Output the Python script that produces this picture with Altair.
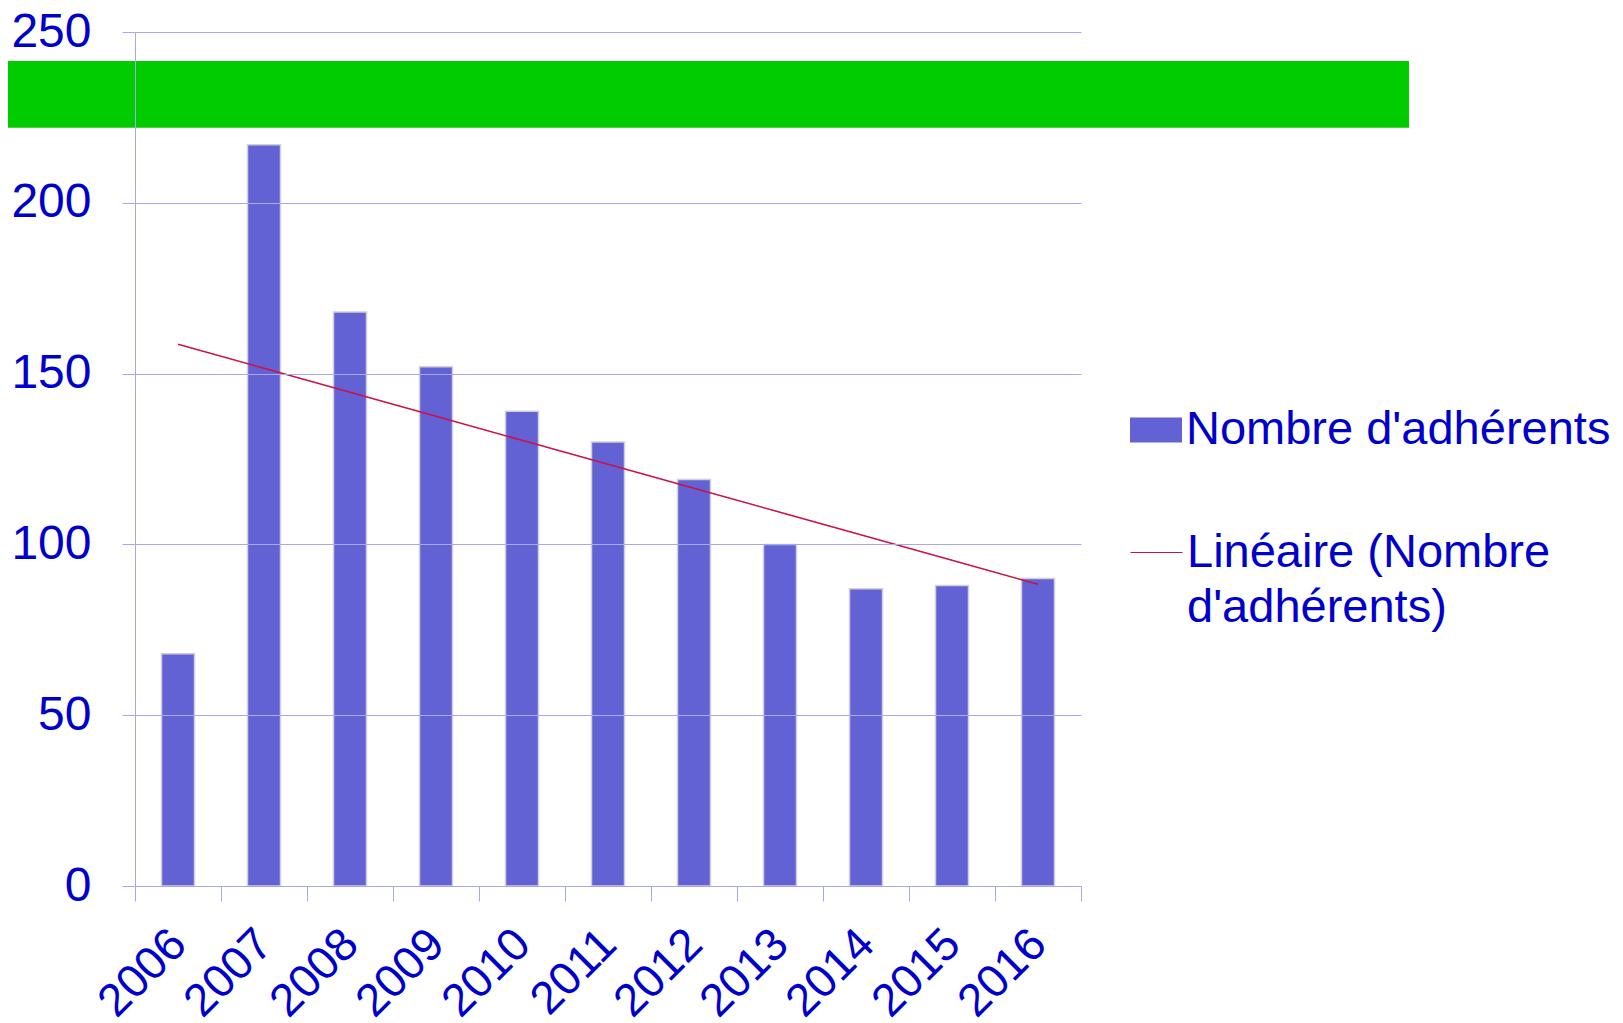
import altair as alt
import numpy as np
import pandas as pd

years = ["2006", "2007", "2008", "2009", "2010", "2011", "2012", "2013", "2014", "2015", "2016"]
adherents = [68, 217, 168, 152, 139, 130, 119, 100, 87, 88, 90]
y_ticks = [0, 50, 100, 150, 200, 250]
bar_label = "Nombre d'adhérents"
trend_label = "Linéaire (Nombre|d'adhérents)"
band_low, band_high = 222, 241.5

# linear trend (least squares, as Excel's "Linéaire" trendline)
idx = np.arange(len(adherents))
slope, intercept = np.polyfit(idx, adherents, 1)
trend = (intercept + slope * idx).tolist()

df = pd.DataFrame({
    "annee": years,
    "n": adherents,
    "trend": trend,
    "s1": [bar_label] * len(years),
    "s2": [trend_label] * len(years),
})

BLUE = "#0000CC"
GRID = "#A8A8EE"
FONT = "Liberation Sans"
FS = 48
LFS = 47

x_enc = alt.X(
    "annee:N",
    sort=years,
    title=None,
    scale=alt.Scale(paddingInner=0, paddingOuter=0),
    axis=alt.Axis(
        labelAngle=-45,
        labelFont=FONT,
        labelFontSize=46,
        labelColor=BLUE,
        labelPadding=20,
        labelOffset=-15,
        tickBand="extent",
        tickSize=15,
        tickColor=GRID,
        domainColor=GRID,
        grid=False,
        zindex=1,
    ),
)
y_scale = alt.Scale(domain=[0, 250], nice=False)
y_axis = alt.Axis(
    values=y_ticks,
    labelFont=FONT,
    labelFontSize=FS,
    labelColor=BLUE,
    labelPadding=31,
    tickSize=13,
    tickColor=GRID,
    domainColor=GRID,
    gridColor=GRID,
    grid=True,
    zindex=1,
)

base = alt.Chart(df)

band = base.transform_filter("datum.annee == '2006'").mark_rect(
    color="#00CC00", clip=False
).encode(
    x=alt.value(-127),
    x2=alt.value(1274),
    y=alt.datum(band_high, scale=y_scale),
    y2=alt.datum(band_low),
)

bars = base.mark_bar(size=33, stroke="#D0D0D6", strokeWidth=1.5).encode(
    x=x_enc,
    y=alt.Y("n:Q", scale=y_scale, axis=y_axis, title=None),
    fill=alt.Fill(
        "s1:N",
        scale=alt.Scale(range=["#6262D4"]),
        legend=alt.Legend(
            title=None,
            orient="none",
            legendX=995,
            legendY=372,
            padding=0,
            symbolType="M-1,-0.48L1,-0.48L1,0.48L-1,0.48Z",
            symbolSize=2704,
            symbolStrokeWidth=0,
            labelFont=FONT,
            labelFontSize=LFS,
            labelColor=BLUE,
            labelLimit=800,
            labelOffset=4,
        ),
    ),
)

line = base.mark_line(strokeWidth=1.5).encode(
    x=alt.X("annee:N", sort=years),
    y=alt.Y("trend:Q", scale=y_scale),
    stroke=alt.Stroke(
        "s2:N",
        scale=alt.Scale(range=["#CC1144"]),
        legend=alt.Legend(
            title=None,
            orient="none",
            legendX=995,
            legendY=494,
            padding=0,
            symbolType="stroke",
            symbolSize=2704,
            symbolStrokeWidth=1,
            symbolStrokeColor="#F07070",
            labelFont=FONT,
            labelFontSize=LFS,
            labelColor=BLUE,
            labelLimit=800,
            labelOffset=4,
            labelExpr="split(datum.label, '|')",
        ),
    ),
)

chart = (
    alt.layer(band, bars, line)
    .properties(
        width=946,
        height=854,
        autosize=alt.AutoSizeParams(type="none"),
        padding={"left": 127, "top": 24, "right": 533, "bottom": 137},
        background="white",
    )
    .configure(
        style={"guide-label": {"lineHeight": 55}},
        view=alt.ViewConfig(stroke=None),
    )
)

chart.save("out.html", embed_options={"renderer": "svg", "actions": False})
